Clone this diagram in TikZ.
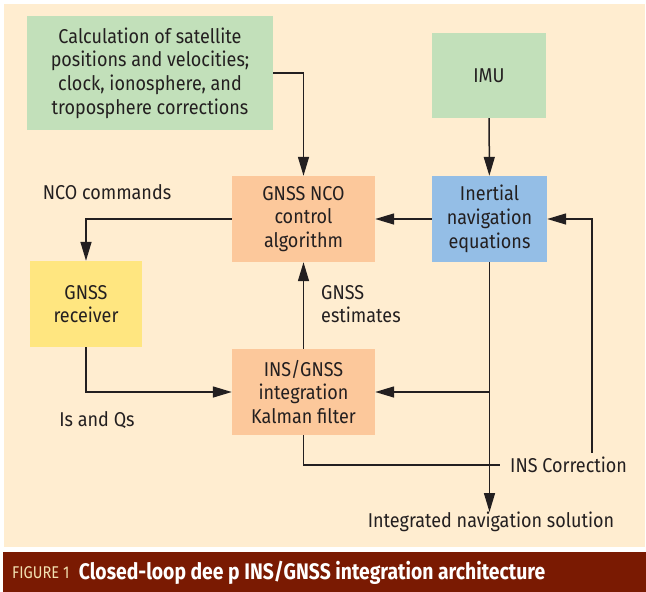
\documentclass[tikz,border=0pt]{standalone}
\usepackage{fontspec}
\setmainfont[FakeStretch=0.9]{Fira Sans}
\newfontfamily\capfont[FakeStretch=0.86]{Fira Sans}
\usepackage{tikz}
\usetikzlibrary{arrows.meta}
\definecolor{cream}{RGB}{255,237,208}
\definecolor{leaf}{RGB}{194,224,186}
\definecolor{peach}{RGB}{252,200,155}
\definecolor{sky}{RGB}{148,190,230}
\definecolor{straw}{RGB}{255,230,128}
\definecolor{maroon}{RGB}{122,26,2}
\definecolor{ink}{RGB}{35,31,32}
\definecolor{pale}{RGB}{243,226,178}
\newcommand{\diagfont}{\fontsize{20}{23.7}\selectfont}
\tikzset{blk/.style={rectangle, align=center, inner sep=0pt, text=ink, font=\diagfont}}
\tikzset{lbl/.style={text=ink, font=\diagfont, inner sep=0pt}}
\tikzset{wire/.style={draw=ink, line width=1.5pt}}
\tikzset{flow/.style={wire, -{Triangle[length=19pt,width=11pt]}}}

\begin{document}
\begin{tikzpicture}[x=1pt,y=-1pt]
    \useasboundingbox (0,0) rectangle (646,592);
    \fill[cream] (4,4) rectangle (645,547);
    \fill[maroon] (3,552) rectangle (646,592);

    \node[blk, fill=leaf, minimum width=246pt, minimum height=114pt] (calc) at (150,73)
      {Calculation of satellite\\positions and velocities;\\clock, ionosphere, and\\troposphere corrections};
    \node[blk, fill=leaf, minimum width=114pt, minimum height=85pt] (imu) at (489,75.5) {IMU};
    \node[blk, fill=peach, minimum width=143pt, minimum height=86pt] (nco) at (303.5,219)
      {GNSS NCO\\control\\algorithm};
    \node[blk, fill=sky, minimum width=115pt, minimum height=86pt] (ins) at (489.5,219)
      {Inertial\\navigation\\equations};
    \node[blk, fill=straw, minimum width=112pt, minimum height=86pt] (rcvr) at (86,304)
      {GNSS\\receiver};
    \node[blk, fill=peach, minimum width=143pt, minimum height=86pt] (kf) at (303.5,392)
      {INS/GNSS\\integration\\Kalman filter};

    \node[lbl] (ncocmd) at (107,192) {NCO commands};
    \node[lbl, anchor=west, align=left] (gnssest) at (321,304) {GNSS\\estimates};
    \node[lbl] (iq) at (97,420) {Is and Qs};
    \node[lbl, inner xsep=10pt, inner ysep=4pt, anchor=west] (inscorr) at (500,465) {INS Correction};
    \node[lbl, anchor=north] (intsol) at (491,512) {Integrated navigation solution};
    \coordinate (fbx) at (592,0);
    \coordinate (tap) at (ins.south |- kf.east);

    \draw[flow] (calc.east) -| (nco.north);
    \draw[flow] (imu) -- (ins);
    \draw[flow] (ins) -- (nco);
    \draw[flow] (nco.west) -| (rcvr.north);
    \draw[flow] (rcvr.south) |- (kf.west);
    \draw[flow] (kf) -- (nco);
    \draw[flow] (ins.south) -- (ins.south |- intsol.north);
    \draw[flow] (tap) -- (kf.east);
    \draw[wire] (kf.south) |- (inscorr.west);
    \draw[flow] (inscorr.north -| fbx) |- (ins.east);

    \node[font=\capfont\fontsize{17}{17}\selectfont, text=pale, anchor=west, inner sep=0pt] (fig) at (12,573) {FIGURE 1};
    \node[font=\capfont\bfseries\fontsize{22.5}{22.5}\selectfont, text=white, anchor=west, inner sep=0pt] (title) at ([xshift=9pt]fig.east)
      {Closed-loop dee p INS/GNSS integration architecture};
\end{tikzpicture}
\end{document}
